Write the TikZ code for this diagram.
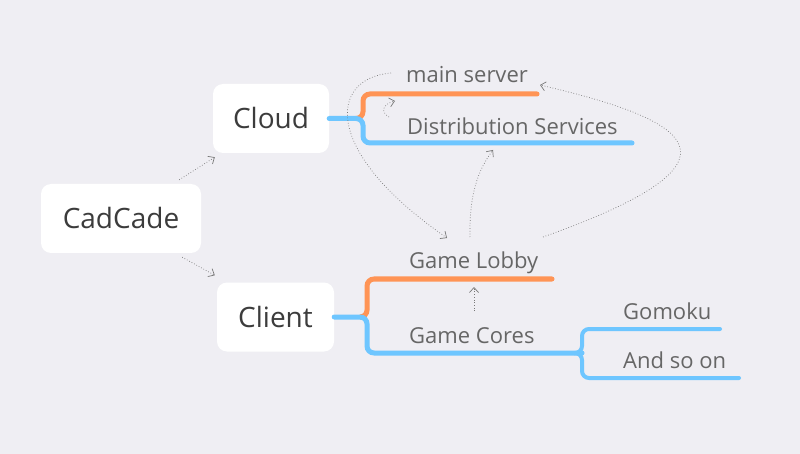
\documentclass[tikz,border=0pt]{standalone}
\usepackage{fontspec}
\setmainfont{Open Sans}
\usetikzlibrary{arrows.meta}

\definecolor{bgcol}{RGB}{239,238,243}
\definecolor{orangecol}{RGB}{255,148,85}
\definecolor{bluecol}{RGB}{110,198,255}
\definecolor{txtcol}{RGB}{102,102,102}
\definecolor{boxtxt}{RGB}{60,60,60}
\definecolor{linkcol}{RGB}{120,120,120}

\tikzset{
  box/.style={fill=white, rounded corners=10pt, minimum height=69pt,
    text=boxtxt, font=\fontsize{28}{30}\selectfont},
  leaf/.style={anchor=west, inner sep=0pt, text=txtcol,
    font=\fontsize{22}{26}\selectfont},
  blueline/.style={draw=bluecol, line width=5pt, line cap=round, rounded corners=7pt},
  orangeline/.style={draw=orangecol, line width=5pt, line cap=round, rounded corners=7pt},
  link/.style={draw=linkcol, dotted, line width=0.7pt,
    -{Straight Barb[length=5pt,width=9pt]}},
}

\begin{document}
\begin{tikzpicture}[x=1pt,y=-1pt]
\fill[bgcol] (0,0) rectangle (800,454);
\useasboundingbox (0,0) rectangle (800,454);

% main boxes
\node[box, minimum width=160pt] (cadcade) at (121,218.5) {CadCade};
\node[box, minimum width=116pt] (cloud) at (271,118.5) {Cloud};
\node[box, minimum width=117pt] (client) at (275.5,317) {Client};

% branch texts
\node[leaf] (main) at (406,75) {main server};
\node[leaf] (dist) at (407,126) {Distribution Services};
\node[leaf] (lobby) at (409,263) {Game Lobby};
\node[leaf] (cores) at (409,336) {Game Cores};
\node[leaf] (gomoku) at (623,311) {Gomoku};
\node[leaf] (soon) at (623,360) {And so on};

% cloud branches
\draw[orangeline] (357,118.5) -- (363,118.5) -- (363,94) -- (537,94);
\draw[blueline] (cloud.east) -- (363,118.5) -- (363,143) -- (632,143);

% client branches
\draw[orangeline] (361,317) -- (367,317) -- (367,279) -- (552,279);
\draw[blueline] (client.east) -- (367,317) -- (367,353) -- (582,353);
\draw[blueline, line width=4pt] (574,353) -- (582,353) -- (582,329) -- (720,329);
\draw[blueline, line width=4pt] (574,353) -- (582,353) -- (582,378) -- (739,378);

% relations
\draw[link] ([shift={(-22,-4)}]cadcade.north east) -- ([shift={(2,4)}]cloud.south west);
\draw[link] ([shift={(-19,4)}]cadcade.south east) -- ([shift={(-2,-7)}]client.north west);
\draw[link] ([shift={(-15,-2)}]main.west) .. controls +(-61,5) and +(-127,-88) .. ([shift={(38,-25)}]lobby.west);
\draw[link] ([shift={(-18,-9)}]dist.west) .. controls +(-9,-5) and +(-12,3) .. ([shift={(-12,-25)}]dist.west);
\draw[link] ([shift={(61,-26)}]lobby.west) .. controls +(-1,-42) and +(-15,20) .. ([shift={(86,24)}]dist.west);
\draw[link] ([shift={(134,-26)}]lobby.west) .. controls +(217,-77) and +(150,35) .. ([shift={(134,10)}]main.west);
\draw[link] ([shift={(65,-25)}]cores.west) -- ([shift={(65,24)}]lobby.west);
\end{tikzpicture}
\end{document}
